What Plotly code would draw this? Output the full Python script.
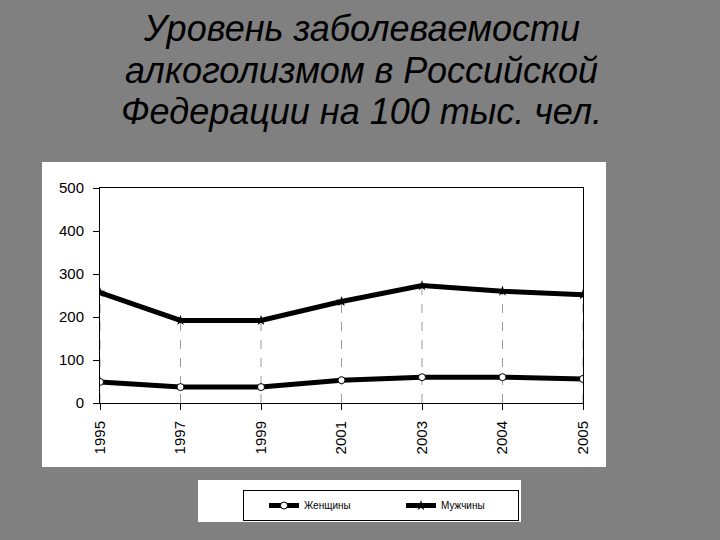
import plotly.graph_objects as go

years = ["1995", "1997", "1999", "2001", "2003", "2004", "2005"]
women = [49, 37, 37, 53, 60, 60, 56]
men = [257, 192, 192, 236, 273, 260, 252]
y_ticks = [0, 100, 200, 300, 400, 500]
title_lines = ["Уровень заболеваемости", "алкоголизмом в Российской", "Федерации на 100 тыс. чел."]
series_names = ["Женщины", "Мужчины"]

fig = go.Figure()

# dashed drop lines from each point to the axis
for i, yr in enumerate(years):
    top = max(women[i], men[i])
    fig.add_trace(go.Scatter(x=[yr, yr], y=[0, top], mode="lines",
                             line=dict(color="#9a9a9a", width=1, dash="dash"),
                             showlegend=False, hoverinfo="skip"))

fig.add_trace(go.Scatter(x=years, y=women, name=series_names[0], mode="lines+markers",
                         line=dict(color="black", width=5),
                         marker=dict(symbol="circle", size=7, color="white",
                                     line=dict(color="black", width=1))))
fig.add_trace(go.Scatter(x=years, y=men, name=series_names[1], mode="lines+markers",
                         line=dict(color="black", width=5),
                         marker=dict(symbol="star", size=8, color="black")))

W, H = 720, 540
L, R, T, B = 100, 583, 188, 403  # plot area in page pixels
pw, ph = R - L, B - T

def px(x):
    return (x - L) / pw

def py(y):
    return (B - y) / ph

shapes = [
    dict(type="rect", xref="paper", yref="paper", x0=px(42), x1=px(606), y0=py(467), y1=py(162),
         fillcolor="white", line=dict(width=0), layer="below"),
    dict(type="rect", xref="paper", yref="paper", x0=px(198), x1=px(521), y0=py(522), y1=py(480),
         fillcolor="white", line=dict(width=0), layer="below"),
]

annotations = []
for k, t in enumerate(title_lines):
    annotations.append(dict(text="<i>" + t + "</i>", xref="paper", yref="paper",
                            x=px(361), y=py(28 + 42 * k),
                            showarrow=False, xanchor="center", yanchor="middle",
                            font=dict(family="Liberation Sans, Arial", size=36, color="black")))

fig.update_layout(
    width=W, height=H,
    margin=dict(l=L, r=W - R, t=T, b=H - B),
    paper_bgcolor="#808080",
    plot_bgcolor="white",
    shapes=shapes,
    annotations=annotations,
    showlegend=True,
    legend=dict(orientation="h", x=px(243), y=py(490), xanchor="left", yanchor="top",
                bgcolor="white", bordercolor="black", borderwidth=1,
                font=dict(family="Liberation Sans, Arial", size=10, color="black"),
                entrywidth=72, entrywidthmode="pixels", itemwidth=30, indentation=20),
    xaxis=dict(type="category", categoryorder="array", categoryarray=years,
               range=[0, len(years) - 1], showgrid=False, zeroline=False,
               showline=True, linecolor="black", linewidth=1, mirror=True,
               ticks="outside", ticklen=6, tickcolor="black", tickangle=-90,
               ticklabelstandoff=5,
               tickfont=dict(family="Liberation Sans, Arial", size=15, color="black")),
    yaxis=dict(range=[0, 500], tickvals=y_ticks, showgrid=False, zeroline=False,
               showline=True, linecolor="black", linewidth=1, mirror=True,
               ticks="outside", ticklen=6, tickcolor="black",
               ticklabelstandoff=6,
               tickfont=dict(family="Liberation Sans, Arial", size=15, color="black")),
)

fig.write_html("out.html", config={"displayModeBar": False},
               post_script="document.body.style.margin='0';")
